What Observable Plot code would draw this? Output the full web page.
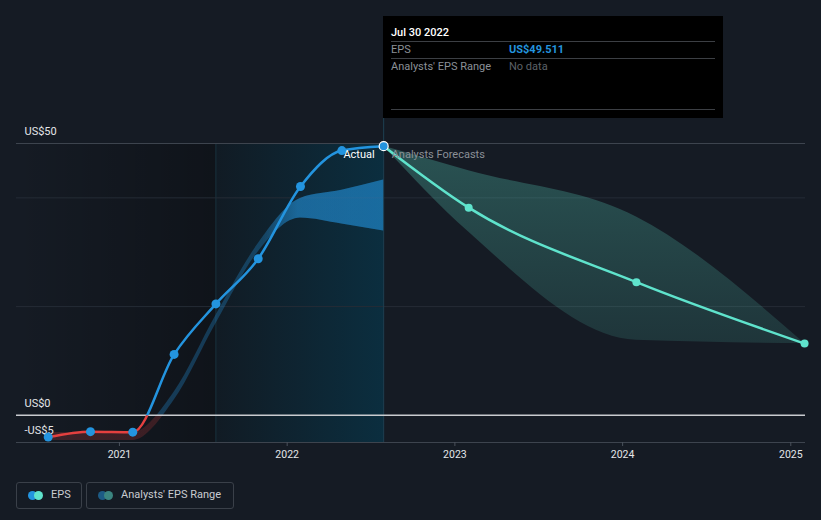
<!DOCTYPE html>
<html>
<head>
<meta charset="utf-8">
<script src="https://cdn.jsdelivr.net/npm/d3@7"></script>
<script src="https://cdn.jsdelivr.net/npm/@observablehq/plot@0.6"></script>
<style>
  html, body { margin: 0; padding: 0; background: #151b24; }
  #wrap { position: relative; width: 821px; height: 520px; overflow: hidden; font-family: Roboto, "Noto Sans", sans-serif; }
  #chart { position: absolute; left: 0; top: 0; }
  #tip { position: absolute; left: 383px; top: 16px; width: 340px; height: 102px; background: #000; color: #fff; font-size: 11px; }
  #tip .t { position: absolute; left: 8px; line-height: 14px; white-space: nowrap; }
  #tip .v { position: absolute; left: 126px; line-height: 14px; white-space: nowrap; }
  #tip .sep { position: absolute; left: 8px; width: 324px; height: 1px; background: #3c3f44; }
  .leg { position: absolute; top: 482px; height: 25px; border: 1px solid #3a4049; border-radius: 3px; box-sizing: content-box; }
  .leg .c { position: absolute; top: 8px; width: 9px; height: 9px; border-radius: 50%; }
  .leg .lt { position: absolute; top: 5px; line-height: 14px; font-size: 11px; color: #c9ccd1; white-space: nowrap; }
</style>
</head>
<body>
<div id="wrap">
  <div id="chart"></div>
  <div id="tip">
    <div class="t" style="top:10px;color:#fff;font-weight:500">Jul 30 2022</div>
    <div class="sep" style="top:25px"></div>
    <div class="t" style="top:27px;color:#8b9097">EPS</div>
    <div class="v" style="top:27px;color:#2394df;font-weight:700">US$49.511</div>
    <div class="sep" style="top:42px"></div>
    <div class="t" style="top:44px;color:#8b9097">Analysts' EPS Range</div>
    <div class="v" style="top:44px;color:#5d6268">No data</div>
    <div class="sep" style="top:93px"></div>
  </div>
  <div class="leg" style="left:16px;width:64px">
    <div class="c" style="left:11px;background:#2394df"></div>
    <div class="c" style="left:17px;background:#5fe3cc"></div>
    <div class="lt" style="left:34px">EPS</div>
  </div>
  <div class="leg" style="left:86px;width:146px">
    <div class="c" style="left:11px;background:#1d5b85"></div>
    <div class="c" style="left:17px;background:#3b8580"></div>
    <div class="lt" style="left:34px">Analysts' EPS Range</div>
  </div>
</div>
<script>
// ---------- data ----------
const actualDates = ["2020-07-30","2020-10-30","2021-01-30","2021-04-30","2021-07-30","2021-10-30","2022-01-30","2022-04-30","2022-07-30"];
const actualEps   = [-4.0, -3.0, -3.1, 11.2, 20.5, 28.8, 42.1, 48.7, 49.511];

const pastRangeLow  = [-4.65, -4.65, -4.65, 2.75, 16.85, 30.05, 36.3, 35.2, 33.9];
const pastRangeHigh = [-3.15, -3.15, -3.15, 4.25, 18.35, 31.55, 39.9, 41.4, 43.3];

const forecastDates = ["2022-07-30","2023-01-31","2024-01-31","2025-01-31"];
const forecastEps   = [49.511, 38.2, 24.5, 13.2];
const forecastLow   = [49.511, 33.7, 13.8, 13.2];
const forecastHigh  = [49.511, 45.0, 36.5, 13.2];

const yTicks = [-5, 0, 50];
const yTickLabels = ["-US$5", "US$0", "US$50"];
const gridValues = [20, 40];
const topGrid = [50];
const xTicks = ["2021-01-01","2022-01-01","2023-01-01","2024-01-01","2025-01-01"];
const xDomain = ["2020-05-22","2025-02-02"];
const yDomain = [-5, 54.6];
const pastZone = ["2020-05-22","2021-07-30"];
const recentZone = ["2021-07-30","2022-07-30"];
const zoneLimits = [-5, 50];

// ---------- build tables ----------
const P = d3.utcParse("%Y-%m-%d");
const actual = actualDates.map((d, i) => ({date: P(d), eps: actualEps[i], lo: pastRangeLow[i], hi: pastRangeHigh[i]}));
const forecast = forecastDates.map((d, i) => ({date: P(d), eps: forecastEps[i], lo: forecastLow[i], hi: forecastHigh[i]}));
const lastActual = actual[actual.length - 1];
const zones = [
  {x1: P(pastZone[0]), x2: P(pastZone[1]), y1: zoneLimits[0], y2: zoneLimits[1], fill: "url(#pastGrad)"},
  {x1: P(recentZone[0]), x2: P(recentZone[1]), y1: zoneLimits[0], y2: zoneLimits[1], fill: "url(#recentGrad)"}
];

const blue = "#2394df", red = "#e5403f", teal = "#5fe3cc";

const chart = Plot.plot({
  width: 821,
  height: 470,
  marginLeft: 16,
  marginRight: 16,
  marginTop: 118,
  marginBottom: 28,
  style: {background: "transparent", fontFamily: "Roboto, sans-serif", fontSize: "11px", color: "#e6e6e6"},
  x: {type: "utc", domain: xDomain.map(P)},
  y: {domain: yDomain},
  marks: [
    Plot.rect(zones, {x1: "x1", x2: "x2", y1: "y1", y2: "y2", fill: d => d.fill}),
    Plot.ruleX([P(recentZone[0])], {y1: zoneLimits[0], y2: zoneLimits[1], stroke: "#18303c", strokeWidth: 1}),
    Plot.ruleY(gridValues, {stroke: "#252c36", strokeWidth: 1}),
    Plot.ruleY(topGrid, {stroke: "#3d444e", strokeWidth: 1}),
    Plot.ruleX([lastActual.date], {stroke: "#1d4152", strokeWidth: 1}),
    Plot.areaY(actual, {x: "date", y1: "lo", y2: "hi", curve: "monotone-x", fill: "url(#rangeGradY)"}),
    Plot.areaY(actual, {x: "date", y1: "lo", y2: "hi", curve: "monotone-x", fill: "url(#rangeGradX)"}),
    Plot.areaY(forecast, {x: "date", y1: "lo", y2: "hi", curve: "monotone-x", fill: "url(#fcGrad)"}),
    Plot.ruleY([0], {stroke: "#c9cbcf", strokeWidth: 1.5}),
    Plot.ruleY([yDomain[0]], {stroke: "#3d444e", strokeWidth: 1}),
    Plot.axisX(xTicks.map(P), {tickSize: 4, tickPadding: 4, stroke: "#4a515b", fill: "#e4e6e9", fontSize: 10.5, tickFormat: d3.utcFormat("%Y")}),
    Plot.axisY(yTicks, {tickSize: 0, textAnchor: "start", dx: 17, dy: -12, fill: "#e4e6e9", fontSize: 11, tickFormat: (d) => yTickLabels[yTicks.indexOf(d)]}),
    Plot.line(forecast, {x: "date", y: "eps", curve: "monotone-x", stroke: teal, strokeWidth: 2.5}),
    Plot.line(actual, {x: "date", y: "eps", curve: "monotone-x", stroke: "url(#lineGrad)", strokeWidth: 2.5}),
    Plot.dot(forecast, {filter: (d, i) => i > 0, x: "date", y: "eps", r: 4, fill: teal}),
    Plot.dot(actual, {filter: (d, i) => i < actual.length - 1, x: "date", y: "eps", r: 4.5, fill: blue}),
    Plot.dot([lastActual], {x: "date", y: "eps", r: 4.5, fill: blue, stroke: "#ffffff", strokeWidth: 1.2}),
    Plot.text([lastActual], {x: "date", y: "eps", text: () => "Actual", textAnchor: "end", dx: -9, dy: 8.5, fill: "#ffffff", fontSize: 11}),
    Plot.text([lastActual], {x: "date", y: "eps", text: () => "Analysts Forecasts", textAnchor: "start", dx: 8, dy: 8.5, fill: "#8b9097", fontSize: 11})
  ]
});

// gradients anchored to the chart's own scales
const xs = chart.scale("x"), ys = chart.scale("y");
const y0 = ys.apply(0);
const gx1 = xs.apply(P("2021-11-10")), gx2 = xs.apply(P("2022-01-25"));
const defs = document.createElementNS("http://www.w3.org/2000/svg", "defs");
defs.innerHTML = `
  <linearGradient id="lineGrad" gradientUnits="userSpaceOnUse" x1="0" x2="0" y1="${y0 - 0.5}" y2="${y0 + 0.5}">
    <stop offset="0" stop-color="${blue}"/><stop offset="1" stop-color="${red}"/>
  </linearGradient>
  <linearGradient id="rangeGradY" gradientUnits="userSpaceOnUse" x1="0" x2="0" y1="${y0 - 0.5}" y2="${y0 + 0.5}">
    <stop offset="0" stop-color="${blue}" stop-opacity="0.3"/><stop offset="1" stop-color="${red}" stop-opacity="0.2"/>
  </linearGradient>
  <linearGradient id="rangeGradX" gradientUnits="userSpaceOnUse" x1="${gx1}" x2="${gx2}" y1="0" y2="0">
    <stop offset="0" stop-color="${blue}" stop-opacity="0"/><stop offset="1" stop-color="${blue}" stop-opacity="0.43"/>
  </linearGradient>
  <linearGradient id="fcGrad" x1="0" x2="0" y1="0" y2="1">
    <stop offset="0" stop-color="${teal}" stop-opacity="0.28"/><stop offset="1" stop-color="${teal}" stop-opacity="0.13"/>
  </linearGradient>
  <linearGradient id="pastGrad" x1="0" x2="1" y1="0" y2="0">
    <stop offset="0" stop-color="#000" stop-opacity="0"/><stop offset="1" stop-color="#000" stop-opacity="0.28"/>
  </linearGradient>
  <linearGradient id="recentGrad" x1="0" x2="1" y1="0" y2="0">
    <stop offset="0" stop-color="#111b24"/><stop offset="1" stop-color="#0b2e3f"/>
  </linearGradient>`;
chart.insertBefore(defs, chart.firstChild);
document.getElementById("chart").appendChild(chart);
</script>
</body>
</html>
